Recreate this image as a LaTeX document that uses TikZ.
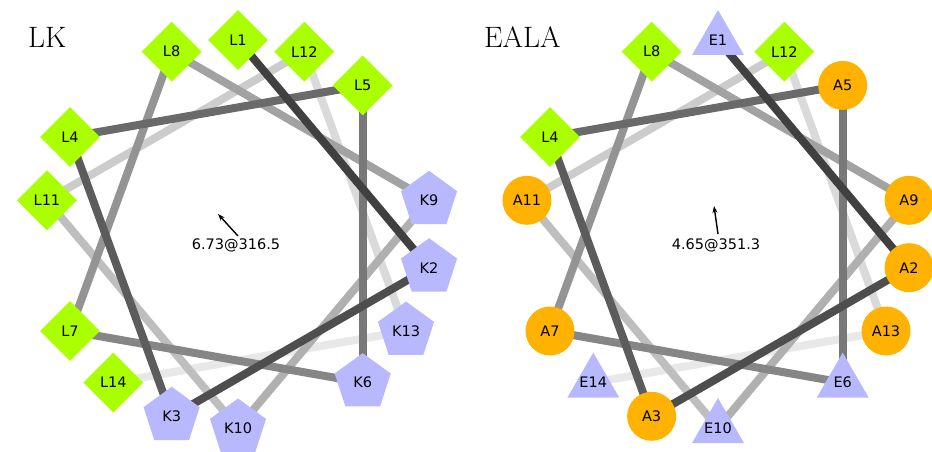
\documentclass[tikz,border=0pt]{standalone}
\usepackage{fontspec}
\newfontfamily\labfont{DejaVu Sans}
\usetikzlibrary{shapes.geometric,backgrounds,arrows.meta}
\definecolor{hydg}{HTML}{AAFF00}
\definecolor{chg}{HTML}{B8B8FF}
\definecolor{alao}{HTML}{FFB300}
\tikzset{
 res/.style={inner sep=0pt, font=\labfont\fontsize{14.5}{15}\selectfont, text=black},
 leu/.style={res, diamond, aspect=1, fill=hydg, minimum size=60pt},
 lys/.style={res, regular polygon, regular polygon sides=5, fill=chg, minimum size=59pt},
 glu/.style={res, regular polygon, regular polygon sides=3, fill=chg, minimum size=60pt,
   execute at begin node={\hbox to 0pt\bgroup\hss}, execute at end node={\hss\egroup}},
 ala/.style={res, circle, fill=alao, minimum size=49pt},
 bond/.style={line width=8pt},
 title/.style={font=\fontsize{29.5}{30}\selectfont, anchor=base west, inner sep=0pt},
 moment/.style={line width=1.4pt, -{Stealth[length=7pt,width=5pt]}},
 momtext/.style={font=\labfont\fontsize{14.5}{15}\selectfont, inner sep=0pt},
}
\begin{document}
\begin{tikzpicture}[x=1pt,y=1pt]
\useasboundingbox (0,0) rectangle (932,451);
% ---------- LK wheel ----------
\node[title] (ltitle) at (28,403) {LK};
\begin{scope}[shift={(238,217)}]
\foreach \i/\t/\s in {1/L1/leu,2/K2/lys,3/K3/lys,4/L4/leu,5/L5/leu,6/K6/lys,7/L7/leu,
                      8/L8/leu,9/K9/lys,10/K10/lys,11/L11/leu,12/L12/leu,13/K13/lys,14/L14/leu}
  \node[\s] (l\i) at ({90-100*(\i-1)}:194) {\t};
\begin{pgfonlayer}{background}
\foreach \i in {13,12,...,1} {
  \pgfmathtruncatemacro\j{\i+1}
  \pgfmathsetmacro\g{75-5.5*(\i-1)}
  \draw[bond, draw=black!\g] (l\i.center) -- (l\j.center);
}
\end{pgfonlayer}
\end{scope}
\coordinate (lmc) at (238,215);
\coordinate (lmt) at (218,237);
\draw[moment] (lmc) -- (lmt);
\node[momtext] (lmv) at (236,206) {6.73@316.5};
% ---------- EALA wheel ----------
\node[title] (rtitle) at (484,403) {EALA};
\begin{scope}[shift={(718,217)}]
\foreach \i/\t/\s in {1/E1/glu,2/A2/ala,3/A3/ala,4/L4/leu,5/A5/ala,6/E6/glu,7/A7/ala,
                      8/L8/leu,9/A9/ala,10/E10/glu,11/A11/ala,12/L12/leu,13/A13/ala,14/E14/glu}
  \node[\s] (r\i) at ({90-100*(\i-1)}:194) {\t};
\begin{pgfonlayer}{background}
\foreach \i in {13,12,...,1} {
  \pgfmathtruncatemacro\j{\i+1}
  \pgfmathsetmacro\g{75-5.5*(\i-1)}
  \draw[bond, draw=black!\g] (r\i.center) -- (r\j.center);
}
\end{pgfonlayer}
\end{scope}
\coordinate (rmc) at (718,217);
\coordinate (rmt) at (714,245);
\draw[moment] (rmc) -- (rmt);
\node[momtext] (rmv) at (716,206) {4.65@351.3};
\end{tikzpicture}
\end{document}
